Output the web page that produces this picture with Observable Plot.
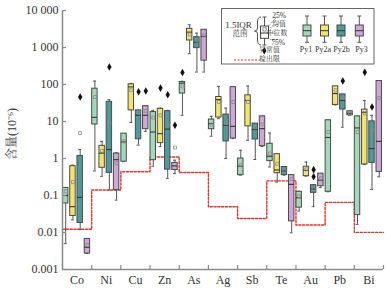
<!DOCTYPE html>
<html><head><meta charset="utf-8">
<script src="https://cdn.jsdelivr.net/npm/d3@7"></script>
<script src="https://cdn.jsdelivr.net/npm/@observablehq/plot@0.6"></script>
<style>body{margin:0;background:#fff}#chart{width:391px;height:293px}</style>
</head><body><div id="chart"></div><script>
const elements = ["Co","Ni","Cu","Zn","As","Ag","Sb","Te","Au","Pb","Bi"];
const phases = ["Py1","Py2a","Py2b","Py3"];
const phaseColors = ["#a3d9bb","#f4e46c","#4f9b9b","#cfa6d8"];

// Py1
const py1Low  = [0.005, 0.46, 0.82, 0.62, 14.7, 4.0, 0.355, 0.59, 0.038, 0.126, 0.0166];
const py1Q1   = [0.061, 8.3, 0.82, 0.9, 57, 6.2, 0.355, 0.85, 0.047, 0.126, 0.0295];
const py1Med  = [0.10, 13, 2.8, 5.2, 109, 8.8, 0.62, 1.15, 0.087, 3.7, 6.7];
const py1Mean = [0.13, 46, 2.9, 12.8, 89, 8.2, 0.66, 1.36, 0.096, 5.2, 5.2];
const py1Q3   = [0.16, 77, 4.7, 18, 117, 11.3, 1.0, 2.5, 0.126, 10.8, 13.8];
const py1High = [0.165, 124, 4.7, 20, 122, 13.8, 1.67, 4.9, 0.13, 10.8, 13.8];
// Py2a
const py2aLow  = [0.022, 0.33, 9.4, 2.1, 680, 11.9, 3.1, 0.23, 0.333, 28, 0.69];
const py2aQ1   = [0.028, 0.56, 20, 2.6, 1550, 12.8, 7.4, 0.40, 0.333, 28, 0.69];
const py2aMed  = [0.05, 1.4, 86, 4.7, 2600, 39, 37, 0.49, 0.48, 57, 17.7];
const py2aMean = [0.23, 1.6, 70, 14.7, 2250, 33.6, 33.6, 0.72, 0.51, 70, 16.7];
const py2aQ3   = [0.62, 2.2, 101, 22, 3200, 46, 51, 1.31, 0.60, 89, 21];
const py2aHigh = [0.66, 2.9, 107, 23, 4100, 89, 91, 1.31, 0.80, 89, 37];
// Py2b
const py2bLow  = [0.012, 0.14, 2.3, 0.29, 217, 1.0, 0.94, 0.355, 0.050, 7.0, 0.146];
const py2bQ1   = [0.018, 0.41, 3.3, 0.5, 960, 2.9, 3.26, 0.355, 0.118, 21, 0.76];
const py2bMed  = [0.089, 1.75, 14.7, 6.2, 1400, 7.9, 6.1, 0.46, 0.151, 37, 1.86];
const py2bMean = [4.9, 9, 17.7, 7.9, 1550, 9.0, 7.0, 0.46, 0.15, 43, 5.8];
const py2bQ3   = [1.17, 34, 20, 19, 1900, 15.4, 8.8, 0.59, 0.19, 54, 10.1];
const py2bHigh = [1.75, 39, 20, 20, 2440, 23, 8.8, 0.59, 0.19, 54, 14.7];
// Py3
const py3Low  = [0.0027, 0.075, 5.4, 0.39, 217, 3.46, 2.1, 0.0098, 0.165, 14.7, 0.32];
const py3Q1   = [0.0027, 0.14, 6.2, 0.49, 440, 3.46, 2.15, 0.020, 0.179, 14.7, 0.435];
const py3Med  = [0.004, 0.93, 14.7, 0.63, 1990, 7.4, 6.4, 0.20, 0.26, 16.7, 2.9];
const py3Mean = [0.0046, 0.75, 19, 1.98, 2120, 33.6, 8.4, 0.28, 0.29, 16.7, 43];
const py3Q3   = [0.0067, 1.36, 26, 0.76, 3020, 85, 13.8, 0.355, 0.39, 18.9, 124];
const py3High = [0.0067, 1.42, 26, 0.9, 3020, 85, 13.8, 0.355, 0.39, 18.9, 124];

const outlierElement = ["Co","Ni","Cu","Cu","Zn","Zn","Zn","As","Au","Au","Pb","Bi","Bi"];
const outlierPhase   = ["Py2b","Py2b","Py2b","Py3","Py2a","Py2b","Py3","Py1","Py2b","Py2b","Py2b","Py2a","Py2b"];
const outlierValue   = [46, 296, 64, 67, 80, 53, 7.9, 210, 0.50, 0.32, 124, 213, 24.7];

const detectionLimit = [0.0122, 0.141, 0.44, 1.10, 0.42, 0.0495, 0.0238, 0.249, 0.0159, 0.065, 0.0101];

const yTicks = [0.001, 0.01, 0.1, 1, 10, 100, 1000, 10000];
const yTickLabels = ["0.001","0.01","0.1","1","10","100","1 000","10 000"];
const yTitle = "含量(10⁻⁶)";
const legendNotes = ["25%","均值","中位数","75%"];

// ---- build tables ----
const stats = {
  Py1: [py1Low, py1Q1, py1Med, py1Mean, py1Q3, py1High],
  Py2a: [py2aLow, py2aQ1, py2aMed, py2aMean, py2aQ3, py2aHigh],
  Py2b: [py2bLow, py2bQ1, py2bMed, py2bMean, py2bQ3, py2bHigh],
  Py3: [py3Low, py3Q1, py3Med, py3Mean, py3Q3, py3High]
};
const slot = (i, j) => i + 0.11 + j * 0.248;
const HW = 0.093, CW = 0.05;
const rows = [];
elements.forEach((el, i) => phases.forEach((ph, j) => {
  const s = stats[ph];
  rows.push({element: el, phase: ph, x: slot(i, j),
    lo: s[0][i], q1: s[1][i], med: s[2][i], mean: s[3][i], q3: s[4][i], hi: s[5][i]});
}));
const outliers = outlierValue.map((v, k) => ({
  x: slot(elements.indexOf(outlierElement[k]), phases.indexOf(outlierPhase[k])), value: v
}));
const limitLine = detectionLimit.map((v, i) => ({x: i, v}));
limitLine.push({x: elements.length, v: detectionLimit[detectionLimit.length - 1]});
const yMin = yTicks[0];
const tickLen = Math.pow(10, 4 / 37); // ~4px on the log axis

const serif = "'Liberation Serif','Times New Roman','Noto Serif CJK SC','Noto Sans CJK SC',serif";
const axisGray = "#8a8a8a";

const chart = Plot.plot({
  width: 391, height: 293,
  marginLeft: 62, marginRight: 8, marginTop: 10, marginBottom: 24,
  style: {fontFamily: serif, fontSize: "12px", color: "#222", background: "#fff"},
  x: {type: "linear", domain: [0, elements.length], axis: null},
  y: {type: "log", domain: [0.001, 10000], axis: null},
  color: {domain: phases, range: phaseColors},
  marks: [
    Plot.line(limitLine, {x: "x", y: "v", curve: "step-after", stroke: "#e8322b", strokeWidth: 1.4, strokeDasharray: "2.2,1.6"}),
    Plot.ruleX(rows, {x: "x", y1: "lo", y2: "hi", stroke: "#555", strokeWidth: 1}),
    Plot.ruleY(rows, {x1: d => d.x - CW, x2: d => d.x + CW, y: "hi", stroke: "#555", strokeWidth: 1}),
    Plot.ruleY(rows, {x1: d => d.x - CW, x2: d => d.x + CW, y: "lo", stroke: "#555", strokeWidth: 1}),
    Plot.rect(rows, {x1: d => d.x - HW, x2: d => d.x + HW, y1: "q1", y2: "q3", fill: "phase", stroke: "#4a4a4a", strokeWidth: 1}),
    Plot.ruleY(rows, {x1: d => d.x - HW, x2: d => d.x + HW, y: "med", stroke: "#333", strokeWidth: 1.1}),
    Plot.dot(rows, {x: "x", y: "mean", symbol: "square", r: 1.7, fill: "none", stroke: "#8a8a8a", strokeWidth: 0.8}),
    Plot.dot(outliers, {x: "x", y: "value", symbol: "diamond", r: 2.3, fill: "#111", stroke: "none"}),
    // axes
    Plot.ruleX([0], {stroke: axisGray, strokeWidth: 1.5}),
    Plot.ruleY([yMin], {stroke: axisGray, strokeWidth: 1.5}),
    Plot.ruleY(yTicks, {y: d => d, x1: 0, x2: 4 / 29.2, stroke: axisGray, strokeWidth: 1.2}),
    Plot.text(yTicks, {y: d => d, text: (d, i) => yTickLabels[i], frameAnchor: "left", dx: -4, textAnchor: "end", fontSize: 12, fill: "#333"}),
    Plot.ruleX(d3.range(1, elements.length + 1), {x: d => d, y1: yMin, y2: yMin * tickLen, stroke: axisGray, strokeWidth: 1.2}),
    Plot.text(elements, {x: (d, i) => i + 0.5, text: d => d, frameAnchor: "bottom", dy: 14, fontSize: 12, fill: "#333"})
  ]
});
document.getElementById("chart").appendChild(chart);

// ---- y title & legend ----
const svg = d3.select(chart);
svg.append("text").attr("transform", "translate(13,134) rotate(-90)")
  .attr("text-anchor", "middle").attr("dominant-baseline", "middle")
  .attr("font-family", serif).attr("font-size", 12).attr("fill", "#333").text(yTitle);

const lg = svg.append("g").attr("font-family", serif).attr("fill", "#333");
lg.append("rect").attr("x", 221.5).attr("y", 8.5).attr("width", 152.5).attr("height", 55.5)
  .attr("fill", "#fff").attr("stroke", "#666").attr("stroke-width", 1);
lg.append("text").attr("x", 238.5).attr("y", 25.5).attr("text-anchor", "middle").attr("dominant-baseline", "middle")
  .attr("font-size", 9).text("1.5IQR");
lg.append("text").attr("x", 240).attr("y", 33.8).attr("text-anchor", "middle").attr("dominant-baseline", "middle")
  .attr("font-size", 7.5).text("范围");
lg.append("path").attr("d", "M261,17 Q257.5,17 257.5,22 L257.5,28 Q257.5,31 254.5,31 Q257.5,31 257.5,34 L257.5,40 Q257.5,45 261,45")
  .attr("fill", "none").attr("stroke", "#444").attr("stroke-width", 0.9);
// sample box
const bx = 264.5;
lg.append("line").attr("x1", bx).attr("x2", bx).attr("y1", 17).attr("y2", 45).attr("stroke", "#555");
lg.append("line").attr("x1", bx - 2).attr("x2", bx + 2).attr("y1", 17).attr("y2", 17).attr("stroke", "#555");
lg.append("line").attr("x1", bx - 2).attr("x2", bx + 2).attr("y1", 45).attr("y2", 45).attr("stroke", "#555");
lg.append("rect").attr("x", bx - 4).attr("y", 26).attr("width", 8).attr("height", 12.3).attr("fill", "#fff").attr("stroke", "#444");
lg.append("line").attr("x1", bx - 4).attr("x2", bx + 4).attr("y1", 33).attr("y2", 33).attr("stroke", "#333");
lg.append("rect").attr("x", bx - 1.6).attr("y", 27.8).attr("width", 3.2).attr("height", 3.2).attr("fill", "none").attr("stroke", "#666").attr("stroke-width", 0.7);
const noteY = [15.8, 24.2, 33.6, 43];
const fromPts = [[268.5, 26], [266.1, 29.4], [268.5, 33], [268.5, 38.3]];
const noteX = [279, 279, 277, 278];
legendNotes.forEach((t, k) => {
  lg.append("line").attr("x1", fromPts[k][0]).attr("y1", fromPts[k][1]).attr("x2", noteX[k] - 1).attr("y2", noteY[k])
    .attr("stroke", "#555").attr("stroke-width", 0.8).attr("stroke-dasharray", "1,1");
  lg.append("text").attr("x", noteX[k]).attr("y", noteY[k]).attr("dominant-baseline", "middle")
    .attr("font-size", k === 0 || k === 3 ? 7.5 : 6.8).text(t);
});
lg.append("path").attr("d", d3.symbol(d3.symbolDiamond, 16)()).attr("transform", "translate(264.3,50.7)").attr("fill", "#111");
lg.append("text").attr("x", 269.5).attr("y", 50.5).attr("dominant-baseline", "middle").attr("font-size", 6.8).text("异常值");
lg.append("line").attr("x1", 234).attr("x2", 265).attr("y1", 60).attr("y2", 60)
  .attr("stroke", "#e8322b").attr("stroke-width", 1.2).attr("stroke-dasharray", "2,1.5");
lg.append("text").attr("x", 269.5).attr("y", 59.3).attr("dominant-baseline", "middle").attr("font-size", 6.8).text("检出限");
const pyX = [307, 324.5, 341, 359.3];
const pyLabelX = [306, 323, 341.5, 361.5];
phases.forEach((p, k) => {
  const cx = pyX[k];
  lg.append("line").attr("x1", cx).attr("x2", cx).attr("y1", 16).attr("y2", 42.3).attr("stroke", "#555");
  lg.append("line").attr("x1", cx - 2).attr("x2", cx + 2).attr("y1", 16).attr("y2", 16).attr("stroke", "#555");
  lg.append("line").attr("x1", cx - 2).attr("x2", cx + 2).attr("y1", 42.3).attr("y2", 42.3).attr("stroke", "#555");
  lg.append("rect").attr("x", cx - 4).attr("y", 25).attr("width", 8).attr("height", 11).attr("fill", phaseColors[k]).attr("stroke", "#4a4a4a");
  lg.append("line").attr("x1", cx - 4).attr("x2", cx + 4).attr("y1", 30.7).attr("y2", 30.7).attr("stroke", "#333");
  lg.append("text").attr("x", pyLabelX[k]).attr("y", 50.5).attr("text-anchor", "middle").attr("dominant-baseline", "middle")
    .attr("font-size", 8).text(p);
});
</script></body></html>
